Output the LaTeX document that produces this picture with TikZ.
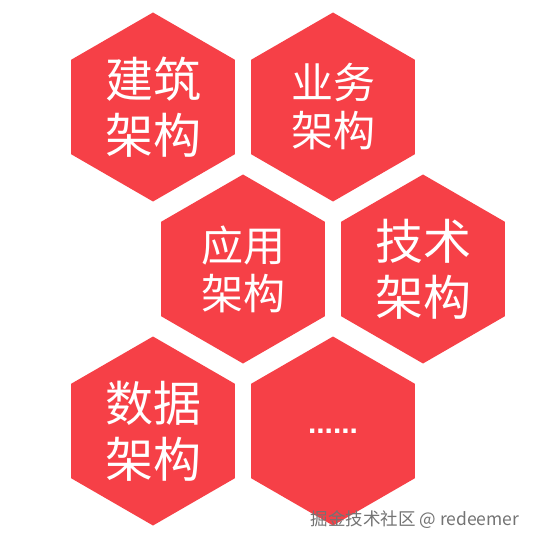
\documentclass[tikz,border=0pt]{standalone}
\usepackage{fontspec}
\newfontfamily\cjk{Noto Sans CJK SC}
\newfontfamily\dotfont{Liberation Sans}
\usetikzlibrary{shapes.geometric}
\definecolor{hexred}{RGB}{246,64,71}
\definecolor{wmgray}{RGB}{115,115,115}
\begin{document}
\begin{tikzpicture}[x=1pt,y=1pt,
  hexcell/.style={regular polygon, regular polygon sides=6, shape border rotate=30,
    minimum size=189pt, inner sep=0pt, fill=hexred, draw=none, text=white, align=center},
  bigtxt/.style={font=\cjk\fontsize{48}{56}\selectfont},
  smalltxt/.style={font=\cjk\fontsize{42}{48}\selectfont}]
\useasboundingbox (0,0) rectangle (534,-545);
\node[hexcell, bigtxt]   (jianzhu) at (153,-107) {建筑\\架构};
\node[hexcell, smalltxt] (yewu)    at (333,-107) {业务\\架构};
\node[hexcell, smalltxt] (yingyong) at (243,-269) {应用\\架构};
\node[hexcell, bigtxt]   (jishu)   at (423,-269) {技术\\架构};
\node[hexcell, bigtxt]   (shuju)   at (153,-431) {数据\\架构};
\node[hexcell, font=\dotfont\bfseries\fontsize{30}{30}\selectfont] (more) at (333,-431) {......};
\node[text=wmgray, font=\cjk\fontsize{17.5}{17.5}\selectfont, inner sep=0pt] (wm) at (415,-520) {掘金技术社区 @ redeemer};
\end{tikzpicture}
\end{document}
